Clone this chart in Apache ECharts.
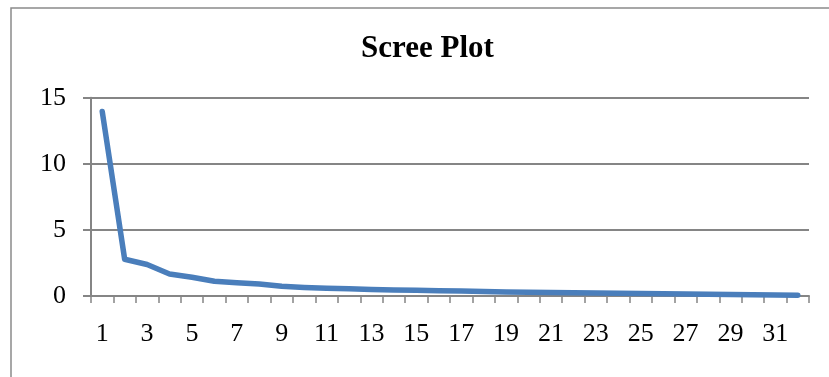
<!DOCTYPE html>
<html>
<head>
<meta charset="utf-8">
<script src="https://cdn.jsdelivr.net/npm/echarts@6/dist/echarts.min.js"></script>
<style>
  html, body { margin: 0; padding: 0; background: #fff; }
  #chart { width: 829px; height: 377px; }
</style>
</head>
<body>
<div id="chart"></div>
<script>
// Component numbers 1..32
const components = Array.from({ length: 32 }, (_, i) => String(i + 1));
// Eigenvalue of each component
const eigenvalues = [
  13.96, 2.78, 2.38, 1.67, 1.42, 1.11, 1.01, 0.91, 0.73, 0.65,
  0.58, 0.54, 0.50, 0.46, 0.43, 0.40, 0.37, 0.34, 0.31, 0.29,
  0.27, 0.25, 0.23, 0.21, 0.19, 0.17, 0.15, 0.13, 0.11, 0.09,
  0.07, 0.05
];
const yTicks = [0, 5, 10, 15];

const serif = '"Liberation Serif", "Times New Roman", serif';
const gridGray = '#858585';

const chart = echarts.init(document.getElementById('chart'), null, { renderer: 'canvas' });
chart.setOption({
  animation: false,
  backgroundColor: '#fff',
  graphic: [{
    type: 'rect',
    shape: { x: 11, y: 8, width: 900, height: 500 },
    style: { fill: 'none', stroke: '#8a8a8a', lineWidth: 1.5 },
    silent: true
  }],
  title: {
    text: 'Scree Plot',
    left: 356,
    top: 28,
    textStyle: { fontFamily: serif, fontWeight: 'bold', fontSize: 31, color: '#000' }
  },
  grid: { left: 91, right: 20, top: 97.7, bottom: 81, containLabel: false },
  xAxis: {
    type: 'category',
    data: components,
    boundaryGap: true,
    axisLine: { show: true, lineStyle: { color: gridGray, width: 2 } },
    axisTick: { show: true, interval: 0, length: 7, lineStyle: { color: gridGray, width: 1.5 } },
    axisLabel: { interval: 1, margin: 25, fontFamily: serif, fontSize: 26, color: '#000' },
    splitLine: { show: false }
  },
  yAxis: {
    type: 'value',
    min: yTicks[0],
    max: yTicks[yTicks.length - 1],
    interval: 5,
    axisLine: { show: true, lineStyle: { color: gridGray, width: 2 } },
    axisTick: { show: true, inside: false, length: 8, lineStyle: { color: gridGray, width: 2 } },
    axisLabel: { margin: 25, fontFamily: serif, fontSize: 26, color: '#000' },
    splitLine: { show: true, lineStyle: { color: gridGray, width: 2 } }
  },
  series: [{
    type: 'line',
    data: eigenvalues,
    showSymbol: false,
    symbol: 'none',
    lineStyle: { color: '#4A7EBB', width: 5.5, cap: 'round', join: 'round' }
  }]
});
</script>
</body>
</html>
